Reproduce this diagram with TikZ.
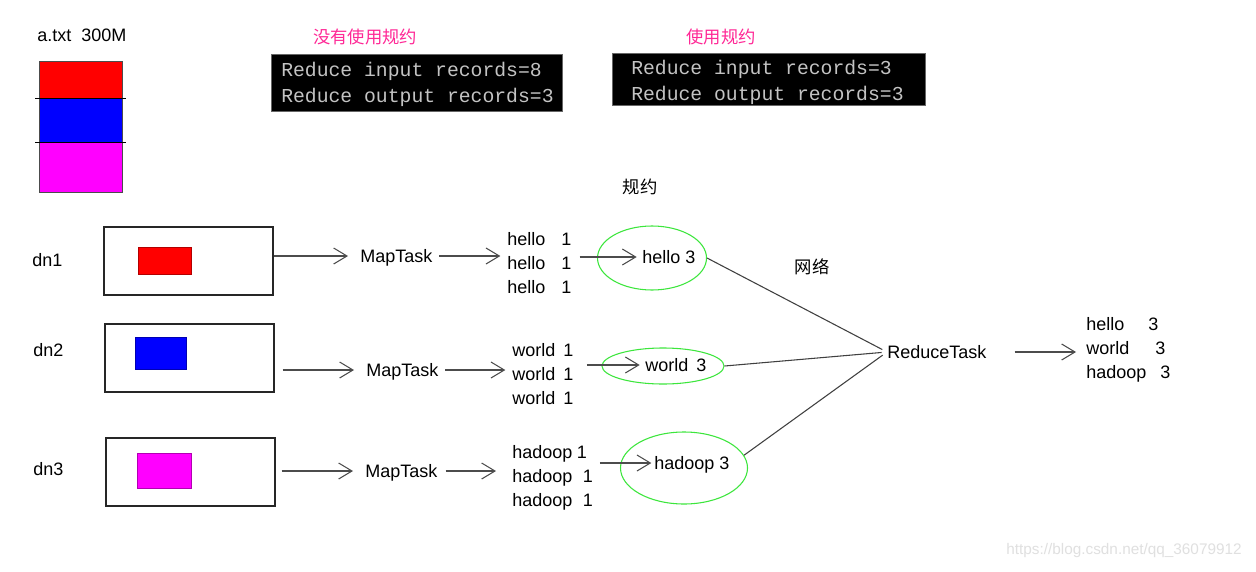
\documentclass[tikz,border=0pt]{standalone}
\usepackage{fontspec}
\setmainfont{Liberation Sans}
\newfontfamily\cjk{Noto Sans CJK SC}
\newfontfamily\cmono{Liberation Mono}
\usetikzlibrary{arrows.meta,shapes.geometric,fit}
\definecolor{pinktxt}{RGB}{255,40,150}
\definecolor{ovalg}{RGB}{60,230,60}
\definecolor{contxt}{RGB}{195,195,195}
\definecolor{magf}{RGB}{255,0,255}
\definecolor{redf}{RGB}{255,0,0}
\definecolor{bluef}{RGB}{0,0,255}
\begin{document}
\begin{tikzpicture}[x=0.75pt,y=-0.75pt,
  lbl/.style={font=\fontsize{13.5}{16}\selectfont, inner sep=0pt, text height=9.7pt, text depth=0pt, anchor=west},
  cn/.style={font=\cjk\fontsize{13}{15}\selectfont, inner sep=0pt},
  con/.style={font=\cmono\fontsize{14.8}{17}\selectfont, text=contxt, inner sep=0pt, anchor=west},
  conbox/.style={fill=black, draw=black!60, inner sep=0pt},
  box/.style={draw=black!85, line width=0.9pt, inner sep=0pt},
  cell/.style={fill=#1, draw=#1!70!black, line width=0.6pt, inner sep=0pt},
  stackcell/.style={fill=#1, draw=black!70, line width=0.6pt, inner sep=0pt},
  arr/.style={draw=black!70, line width=0.8pt, -{Straight Barb[length=10pt,width=12pt]}},
  ln/.style={draw=black!75, line width=0.8pt},
  oval/.style={ellipse, draw=ovalg, line width=0.8pt, inner sep=0pt}
]
\useasboundingbox (0,0) rectangle (1256,571);
\fill[white] (0,0) rectangle (1256,571);

% file and its blocks
\node[lbl] (atxt) at (37,35) {a.txt\ \ 300M};
\node[stackcell=redf, fit={(39,61)(122,98)}] (s1) {};
\node[stackcell=bluef, fit={(39,98)(122,142)}] (s2) {};
\node[stackcell=magf, fit={(39,142)(122,192)}] (s3) {};
\draw[ln, draw=black] ([xshift=-2.5pt]s1.south west) -- ([xshift=3pt]s1.south east);
\draw[ln, draw=black] ([xshift=-2.5pt]s2.south west) -- ([xshift=3pt]s2.south east);

% consoles
\node[cn, text=pinktxt] (p1) at (365,37) {没有使用规约};
\node[cn, text=pinktxt] (p2) at (721,37) {使用规约};
\node[conbox, fit={(271,54)(562,111)}] (c1) {};
\node[con] (c1a) at (281,71) {Reduce input records=8};
\node[con] (c1b) at (281,97) {Reduce output records=3};
\node[conbox, fit={(612,53)(925,105)}] (c2) {};
\node[con] (c2a) at (631,69) {Reduce input records=3};
\node[con] (c2b) at (631,95) {Reduce output records=3};

\node[cn] (gy) at (640,187) {规约};
\node[cn] (wl) at (812,267) {网络};

% data nodes
\node[lbl] (dn1) at (32,260) {dn1};
\node[lbl] (dn2) at (33,350) {dn2};
\node[lbl] (dn3) at (33,469) {dn3};
\node[box, fit={(104,227)(273,295)}] (b1) {};
\node[box, fit={(105,324)(274,392)}] (b2) {};
\node[box, fit={(106,438)(275,506)}] (b3) {};
\node[cell=redf, fit={(138,247)(191,274)}] (r1) {};
\node[cell=bluef, fit={(135,337)(186,369)}] (r2) {};
\node[cell=magf, fit={(137,453)(191,488)}] (r3) {};

% map tasks
\node[lbl] (m1) at (360,256) {MapTask};
\node[lbl] (m2) at (366,370) {MapTask};
\node[lbl] (m3) at (365,471) {MapTask};

% map outputs
\node[lbl] (h1) at (507,239) {hello\hspace{12pt}1};
\node[lbl] (h2) at (507,263) {hello\hspace{12pt}1};
\node[lbl] (h3) at (507,287) {hello\hspace{12pt}1};
\node[lbl] (w1) at (512,350) {world\hspace{6pt}1};
\node[lbl] (w2) at (512,374) {world\hspace{6pt}1};
\node[lbl] (w3) at (512,398) {world\hspace{6pt}1};
\node[lbl] (d1) at (512,452) {hadoop\hspace{3.5pt}1};
\node[lbl] (d2) at (512,476) {hadoop\hspace{8pt}1};
\node[lbl] (d3) at (512,500) {hadoop\hspace{8pt}1};

% combiners
\node[oval, minimum width=81.75pt, minimum height=48pt] (e1) at (652,258) {};
\node[oval, minimum width=91.5pt, minimum height=27pt] (e2) at (663,366) {};
\node[oval, minimum width=95.25pt, minimum height=54pt] (e3) at (684,468) {};
\node[lbl] (t1) at (642,257) {hello 3};
\node[lbl] (t2) at (645,365) {world\hspace{6pt}3};
\node[lbl] (t3) at (654,463) {hadoop 3};

% reduce
\node[lbl] (rt) at (887,352) {ReduceTask};
\node[lbl] (o1) at (1086,324) {hello\hspace{18pt}3};
\node[lbl] (o2) at (1086,348) {world\hspace{19.5pt}3};
\node[lbl] (o3) at (1086,372) {hadoop\hspace{10.5pt}3};

\node[font=\fontsize{11.5}{13}\selectfont, text=black!12, inner sep=0pt] (wm) at (1124,551) {https://blog.csdn.net/qq\_36079912};

% connectors
\draw[arr, shorten >=9pt] (b1.east |- m1.west) -- (m1.west);
\draw[arr, shorten <=6pt, shorten >=9pt] (b2.east |- m2.west) -- (m2.west);
\draw[arr, shorten <=4.5pt, shorten >=9pt] (b3.east |- m3.west) -- (m3.west);
\draw[arr, shorten <=5pt, shorten >=5pt] (m1.east) -- (h2.west |- m1.east);
\draw[arr, shorten <=5pt, shorten >=5pt] (m2.east) -- (w2.west |- m2.east);
\draw[arr, shorten <=6pt, shorten >=12pt] (m3.east) -- (d2.west |- m3.east);
\draw[arr, shorten <=6pt, shorten >=4pt] (h2.east |- t1.west) -- (t1.west);
\draw[arr, shorten <=10pt, shorten >=4pt] (w2.east |- t2.west) -- (t2.west);
\draw[arr, shorten <=5pt, shorten >=2pt] (d2.east |- t3.west) -- (t3.west);
\draw[ln, shorten >=4pt] (e1.east) -- (rt.west);
\draw[ln, shorten >=4pt] (e2.east) -- (rt.west);
\draw[ln, shorten >=4pt] (e3.12) -- (rt.west);
\draw[arr, shorten <=21pt, shorten >=7.5pt] (rt.east) -- (o2.west |- rt.east);
\end{tikzpicture}
\end{document}
